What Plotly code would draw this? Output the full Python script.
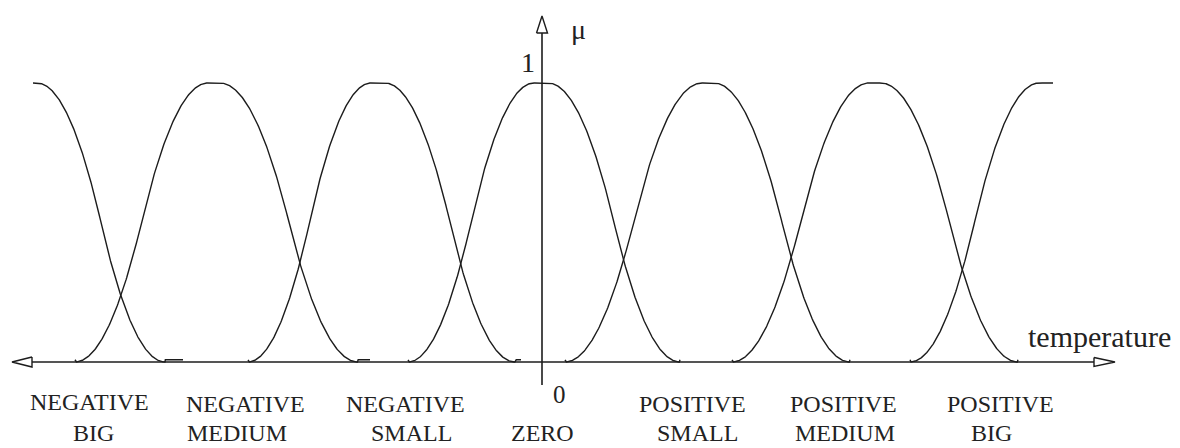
import numpy as np
import plotly.graph_objects as go

# ---- data (temperature units, 0 at the mu axis) ----
terms_line1 = ["NEGATIVE", "NEGATIVE", "NEGATIVE", "", "POSITIVE", "POSITIVE", "POSITIVE"]
terms_line2 = ["BIG", "MEDIUM", "SMALL", "ZERO", "SMALL", "MEDIUM", "BIG"]
# pi-shaped membership parameters: feet and shoulders
foot_left = [-509, -467, -294, -134, 23, 190, 368]
shoulder_left = [-509, -334, -171, -8, 160, 327, 497]
shoulder_right = [-505, -322, -157, 6, 172, 339, 511]
foot_right = [-377, -184, -27, 138, 308, 476, 511]
tail = [18, 12, 6, 0, 0, 0, 0]

# label placement (x in temperature units, y in membership units)
label1_x = [-453, -297, -137, 0, 150, 301, 458]
label2_x = [-449, -305, -131, 0, 155, 303, 449]
label1_y = [-0.142, -0.150, -0.150, 0, -0.150, -0.150, -0.150]
label2_y = [-0.255, -0.255, -0.255, -0.255, -0.255, -0.255, -0.255]

def pimf(x, a, b, c, d):
    y = np.zeros_like(x, dtype=float)
    if b > a:
        m = (x >= a) & (x <= (a + b) / 2)
        y[m] = 2 * ((x[m] - a) / (b - a)) ** 2
        m = (x > (a + b) / 2) & (x < b)
        y[m] = 1 - 2 * ((x[m] - b) / (b - a)) ** 2
    y[(x >= b) & (x <= c)] = 1
    if d > c:
        m = (x > c) & (x <= (c + d) / 2)
        y[m] = 1 - 2 * ((x[m] - c) / (d - c)) ** 2
        m = (x > (c + d) / 2) & (x <= d)
        y[m] = 2 * ((x[m] - d) / (d - c)) ** 2
    return y

fig = go.Figure()
ink = "#1c1c1c"
PX = 279.0  # pixels per membership unit (vertical)

for i in range(len(terms_line2)):
    xs = np.linspace(foot_left[i], foot_right[i] + tail[i], 400)
    ys = pimf(xs, foot_left[i], shoulder_left[i], shoulder_right[i], foot_right[i])
    ys = ys + 0.008 * (ys < 1e-9)
    fig.add_trace(go.Scatter(x=xs, y=ys, mode="lines",
                             line=dict(color=ink, width=1.4), hoverinfo="skip"))

# axes
fig.add_trace(go.Scatter(x=[-510, 552], y=[0, 0], mode="lines",
                         line=dict(color=ink, width=1.6), hoverinfo="skip"))
fig.add_trace(go.Scatter(x=[0, 0], y=[-23 / PX, 329 / PX], mode="lines",
                         line=dict(color=ink, width=1.6), hoverinfo="skip"))
# arrowheads (open)
fig.add_trace(go.Scatter(x=[-510, -530, -510, -510], y=[5 / PX, 0, -5 / PX, 5 / PX],
                         mode="lines", fill="toself", fillcolor="white",
                         line=dict(color=ink, width=1.4), hoverinfo="skip"))
fig.add_trace(go.Scatter(x=[552, 573, 552, 552], y=[4.5 / PX, 0, -4.5 / PX, 4.5 / PX],
                         mode="lines", fill="toself", fillcolor="white",
                         line=dict(color=ink, width=1.4), hoverinfo="skip"))
fig.add_trace(go.Scatter(x=[-5.5, 0, 5.5, -5.5], y=[329 / PX, 346 / PX, 329 / PX, 329 / PX],
                         mode="lines", fill="toself", fillcolor="white",
                         line=dict(color=ink, width=1.4), hoverinfo="skip"))

font = dict(family="Liberation Serif, Times New Roman, serif", size=24, color="#222")
ann = []
for i in range(len(terms_line2)):
    if terms_line1[i]:
        ann.append(dict(x=label1_x[i], y=label1_y[i], text=terms_line1[i], showarrow=False,
                        xanchor="center", yanchor="middle", font=font))
    ann.append(dict(x=label2_x[i], y=label2_y[i], text=terms_line2[i], showarrow=False,
                    xanchor="center", yanchor="middle", font=font))
ann.append(dict(x=-14, y=1.074, text="1", showarrow=False, xanchor="center",
                yanchor="middle", font=dict(font, size=28)))
ann.append(dict(x=17, y=-0.118, text="0", showarrow=False, xanchor="center",
                yanchor="middle", font=dict(font, size=25)))
ann.append(dict(x=36, y=1.19, text="μ", showarrow=False, xanchor="center",
                yanchor="middle", font=dict(font, size=28)))
ann.append(dict(x=557, y=0.09, text="temperature", showarrow=False, xanchor="center",
                yanchor="middle", font=dict(font, size=30)))
fig.update_layout(annotations=ann)

# page body has an 8px margin: figure covers screen pixels 8..1180 and 8..448
fig.update_layout(
    width=1172, height=440, margin=dict(l=0, r=0, t=0, b=0),
    paper_bgcolor="white", plot_bgcolor="white", showlegend=False,
    xaxis=dict(range=[-534, 638], visible=False, fixedrange=True),
    yaxis=dict(range=[-86 / PX, 354 / PX], visible=False, fixedrange=True),
)
fig.write_html("out.html")
